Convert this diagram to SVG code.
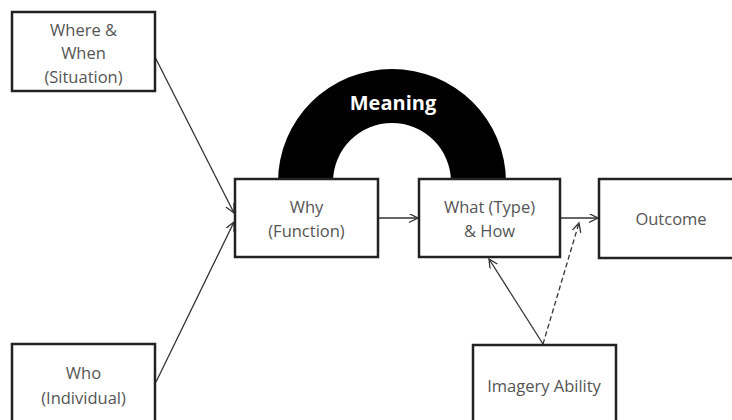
<svg xmlns="http://www.w3.org/2000/svg" width="732" height="420" viewBox="0 0 732 420">
<style>
.box{fill:#fff;stroke:#222;stroke-width:2.5}
.t{font-family:"Open Sans","Liberation Sans",sans-serif;font-size:16.5px;fill:#555;text-anchor:middle}
.c{fill:none;stroke:#333;stroke-width:1.3}
.d{stroke-dasharray:5,3}
</style>
<defs>
<marker id="ah" markerUnits="userSpaceOnUse" markerWidth="12" markerHeight="12" refX="9" refY="4.5" orient="auto">
<path d="M0,0 L9,4.5 L0,9" fill="none" stroke="#333" stroke-width="1.3"/>
</marker>
</defs>
<rect width="732" height="420" fill="#fff"/>
<g id="meaning">
<path d="M278,182 A114,113 0 0 1 506,182 L451,182 A59,59 0 0 0 333,182 Z" fill="#000"/>
<text x="393" y="110" style="font-family:'Open Sans','Liberation Sans',sans-serif;font-size:20px;font-weight:bold;fill:#fff;text-anchor:middle">Meaning</text>
</g>
<g id="connectors">
<line class="c" x1="155" y1="57" x2="234" y2="213" marker-end="url(#ah)"/>
<line class="c" x1="156" y1="382" x2="234" y2="222" marker-end="url(#ah)"/>
<line class="c" x1="378" y1="218" x2="418" y2="218" marker-end="url(#ah)"/>
<line class="c" x1="560" y1="218" x2="598" y2="218" marker-end="url(#ah)"/>
<line class="c" x1="543" y1="344" x2="489" y2="259" marker-end="url(#ah)"/>
<line class="c d" x1="543" y1="344" x2="579" y2="223" marker-end="url(#ah)"/>
</g>
<g id="where">
<rect class="box" x="12" y="12" width="143" height="79"/>
<text class="t" x="83.5" y="36">Where &amp;</text>
<text class="t" x="83.5" y="59">When</text>
<text class="t" x="83.5" y="83">(Situation)</text>
</g>
<g id="who">
<rect class="box" x="12" y="344" width="143" height="90"/>
<text class="t" x="83.5" y="379">Who</text>
<text class="t" x="83.5" y="404">(Individual)</text>
</g>
<g id="why">
<rect class="box" x="235" y="179" width="143" height="78"/>
<text class="t" x="306.5" y="213">Why</text>
<text class="t" x="306.5" y="237">(Function)</text>
</g>
<g id="what">
<rect class="box" x="419" y="179" width="141" height="78"/>
<text class="t" x="489.5" y="213">What (Type)</text>
<text class="t" x="489.5" y="237">&amp; How</text>
</g>
<g id="outcome">
<rect class="box" x="599" y="179" width="150" height="79"/>
<text class="t" x="671" y="225">Outcome</text>
</g>
<g id="imagery">
<rect class="box" x="473" y="345" width="143" height="90"/>
<text class="t" x="544" y="392">Imagery Ability</text>
</g>
</svg>
